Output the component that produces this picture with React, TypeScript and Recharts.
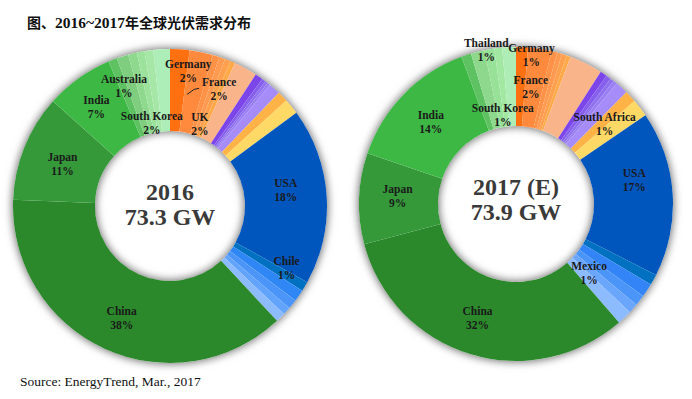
import { PieChart, Pie, Cell } from "recharts";

const RAD = Math.PI / 180;

// 2016 demand share (%), clockwise from 12 o'clock
const names2016 = [
	"Germany", "France", "Orange A", "Orange B", "Orange C", "Orange D", "UK",
	"Purple A", "Purple B", "Purple C", "Purple D", "Purple E", "Gold", "Yellow",
	"USA", "Chile", "Blue A", "Blue B", "Blue C", "Blue D",
	"China", "Japan", "India", "Green A", "Australia", "Green B", "Green C", "Green D", "South Korea",
];
const values2016 = [
	2.0, 2.4, 0.7, 0.6, 0.6, 0.5, 2.4,
	0.8, 0.4, 0.3, 0.3, 1.2, 1.1, 1.6,
	18.2, 1.0, 1.2, 1.0, 0.8, 1.0,
	37.6, 11.0, 7.0, 0.9, 1.2, 0.9, 0.8, 0.9, 1.7,
];

// 2017 (E) demand share (%)
const names2017 = [
	"Germany", "France", "Orange A", "Orange B", "Orange C", "Orange D", "Peach",
	"Purple A", "Purple B", "Purple C", "Purple D", "Purple E", "South Africa", "Yellow",
	"USA", "Navy", "Mexico", "Blue B", "Blue C", "Blue D",
	"China", "Japan", "India", "Green A", "Thailand", "Green B", "Green C", "South Korea",
];
const values2017 = [
	1.2, 2.4, 0.6, 0.5, 0.5, 0.4, 3.4,
	0.7, 0.5, 0.4, 0.4, 1.3, 1.2, 1.8,
	16.9, 1.1, 1.4, 1.1, 1.0, 1.5,
	32.0, 9.3, 14.0, 1.0, 1.4, 1.0, 0.8, 1.4,
];

const totals = ["73.3 GW", "73.9 GW"];
const years = ["2016", "2017 (E)"];

const colors2016 = [
	"#FF7010", "#FF8A3D", "#FF9247", "#FF9A50", "#FFA04E", "#FFAA48", "#F9B48A",
	"#7B45EA", "#8660EC", "#8F70EE", "#9A80F2", "#A58CF8", "#FFB347", "#FFD966",
	"#0056BD", "#0070C0", "#2F86F5", "#4B95F8", "#62A3FB", "#8DBBFF",
	"#2B892B", "#35993A", "#3EB845", "#5EC262", "#7FCE80", "#8FD98F", "#9CE29C", "#A6E6A6", "#ADEDB7",
];
const colors2017 = [
	"#FF7010", "#FF8A3D", "#FF9247", "#FF9A50", "#FFA04E", "#FFAA48", "#F9B48A",
	"#7B45EA", "#8660EC", "#8F70EE", "#9A80F2", "#A58CF8", "#FFB347", "#FFD966",
	"#0056BD", "#0070C0", "#3385F7", "#4B95F8", "#6AA6FB", "#8DBBFF",
	"#2B892B", "#35993A", "#3EB845", "#5EC262", "#8ED88E", "#98E198", "#A2E7A2", "#AEEDB6",
];

// label nudges (px) from the ring's mid radius, like Excel's placed labels
const nudge2016: Record<string, [number, number]> = {
	Germany: [11, -19], France: [26, -3], UK: [-26, 20], USA: [0, -9], Chile: [17, 3],
	China: [0, 7], Japan: [0, 2], India: [-6, -5], Australia: [-11, -9], "South Korea": [-12, 33],
};
const nudge2017: Record<string, [number, number]> = {
	Germany: [11, -32], France: [-3, -1], "South Africa": [3, 0], USA: [1, -16], Mexico: [-25, 4],
	China: [-4, 2], Japan: [-1, -4], India: [-1, 0], Thailand: [-1, -40], "South Korea": [-8, 28],
};

const data2016 = names2016.map((name, i) => ({ name, value: values2016[i] }));
const data2017 = names2017.map((name, i) => ({ name, value: values2017[i] }));

const makeLabel = (nudge: Record<string, [number, number]>, leader?: string) => (props: any) => {
	const { cx, cy, midAngle, innerRadius, outerRadius, percent, name } = props;
	const off = nudge[name];
	if (!off) return null;
	const r = (innerRadius + outerRadius) / 2;
	const x = cx + r * Math.cos(-midAngle * RAD) + off[0];
	const y = cy + r * Math.sin(-midAngle * RAD) + off[1];
	return (
		<g>
			{leader === name && (
				<polyline
					points={`${x - 32},${y + 5} ${x - 25},${y} ${x - 20},${y - 1}`}
					fill="none"
					stroke="#222"
					strokeWidth={1}
				/>
			)}
			<text
				x={x}
				y={y}
				textAnchor="middle"
				fill="#1a1a1a"
				fontSize={11.5}
				fontWeight="bold"
				fontFamily="'Liberation Serif', serif"
			>
				<tspan x={x} dy={-3}>{name}</tspan>
				<tspan x={x} dy={14}>{Math.round(percent * 100)}%</tspan>
			</text>
		</g>
	);
};

const rings = [
	{ cx: 170, cy: 206, inner: 75, outer: 157 },
	{ cx: 516, cy: 204, inner: 78, outer: 157 },
];

export default function App() {
	return (
		<div style={{ position: "relative", width: 692, height: 399, background: "#fff", overflow: "hidden" }}>
			<style>{"body{margin:0} .ring-shadow{filter:drop-shadow(0 0 4px rgba(0,0,0,0.35));}"}</style>
			<div
				style={{
					position: "absolute",
					left: 27,
					top: 12,
					fontSize: 14,
					fontWeight: "bold",
					fontFamily: "'Liberation Serif', 'Noto Sans CJK SC', serif",
					color: "#111",
					whiteSpace: "nowrap",
				}}
			>
				图、<span style={{ fontSize: 15.5 }}>2016~2017</span>年全球光伏需求分布
			</div>
			<div style={{ position: "absolute", left: 0, top: 0 }}>
				<PieChart width={692} height={399} margin={{ top: 0, right: 0, bottom: 0, left: 0 }}>
					{rings.map((g, i) => (
						<Pie
							key={"s" + i}
							className="ring-shadow"
							data={[{ name: "ring", value: 1 }]}
							dataKey="value"
							cx={g.cx}
							cy={g.cy}
							innerRadius={g.inner}
							outerRadius={g.outer}
							fill="#fff"
							stroke="none"
							isAnimationActive={false}
						/>
					))}
					<Pie
						data={data2016}
						dataKey="value"
						nameKey="name"
						cx={rings[0].cx}
						cy={rings[0].cy}
						innerRadius={rings[0].inner}
						outerRadius={rings[0].outer}
						startAngle={90}
						endAngle={-270}
						stroke="none"
						label={makeLabel(nudge2016, "France")}
						labelLine={false}
						isAnimationActive={false}
					>
						{data2016.map((d, i) => (
							<Cell key={d.name} fill={colors2016[i]} />
						))}
					</Pie>
					<Pie
						data={data2017}
						dataKey="value"
						nameKey="name"
						cx={rings[1].cx}
						cy={rings[1].cy}
						innerRadius={rings[1].inner}
						outerRadius={rings[1].outer}
						startAngle={90}
						endAngle={-270}
						stroke="none"
						label={makeLabel(nudge2017)}
						labelLine={false}
						isAnimationActive={false}
					>
						{data2017.map((d, i) => (
							<Cell key={d.name} fill={colors2017[i]} />
						))}
					</Pie>
				</PieChart>
			</div>
			{rings.map((g, i) => (
				<div
					key={"c" + i}
					style={{
						position: "absolute",
						left: g.cx - 70,
						top: g.cy - (i === 0 ? 26 : 29),
						width: 140,
						textAlign: "center",
						fontFamily: "'Liberation Serif', serif",
						fontWeight: "bold",
						fontSize: 24,
						lineHeight: "25px",
						color: "#3a3a3a",
					}}
				>
					<div>{years[i]}</div>
					<div>{totals[i]}</div>
				</div>
			))}
			<div
				style={{
					position: "absolute",
					left: 20,
					top: 374,
					fontSize: 13.5,
					fontFamily: "'Liberation Serif', serif",
					color: "#111",
					whiteSpace: "nowrap",
				}}
			>
				Source: EnergyTrend, Mar., 2017
			</div>
		</div>
	);
}
